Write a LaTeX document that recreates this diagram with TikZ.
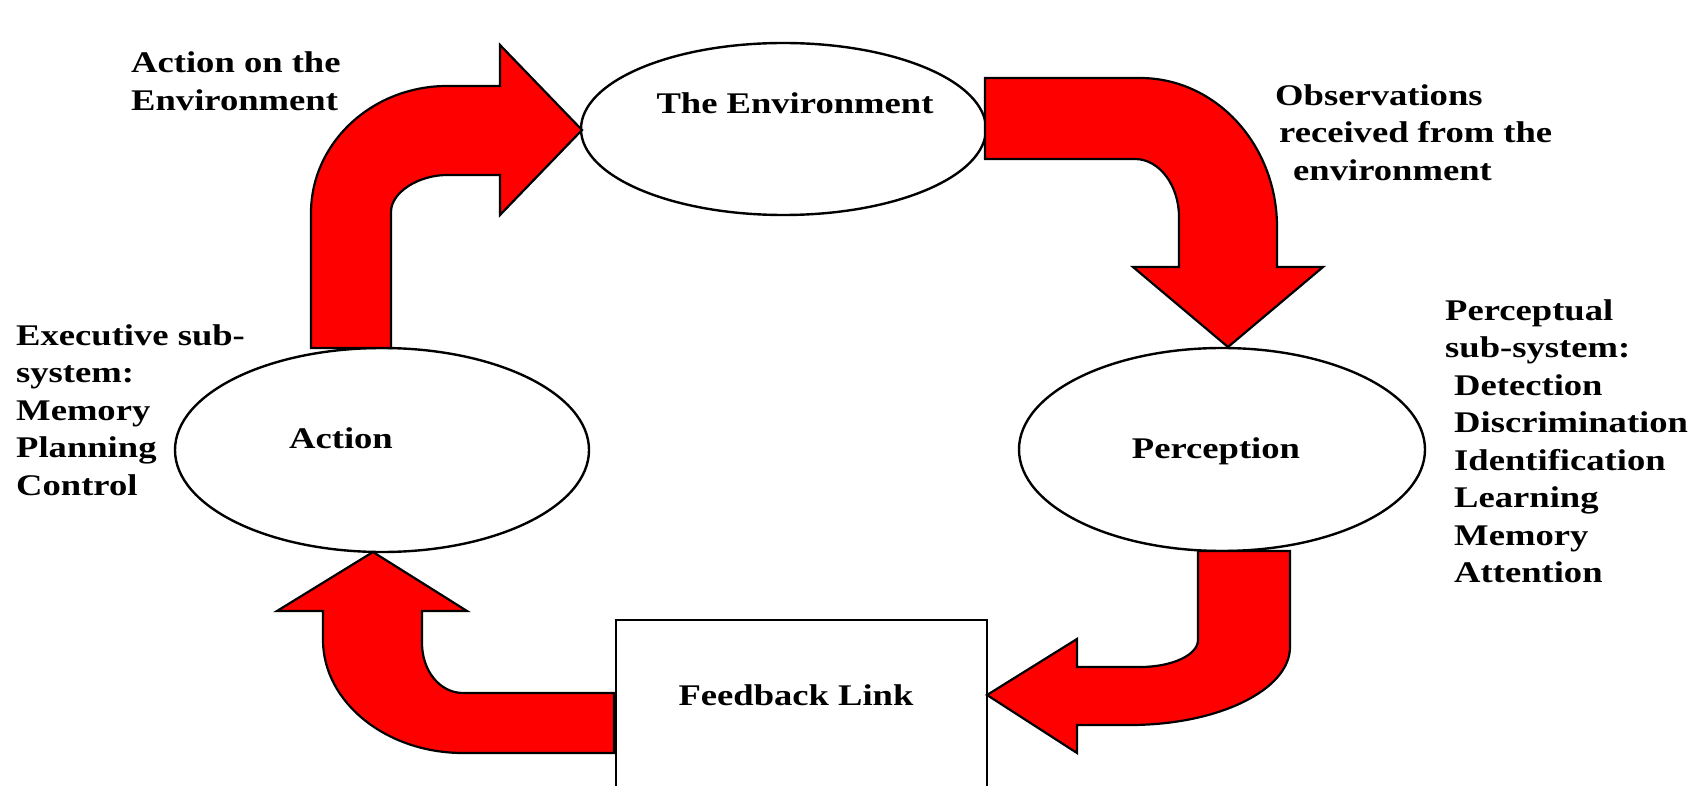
\documentclass[tikz,border=0pt]{standalone}
\usepackage{fontspec}
\setmainfont{Liberation Serif}[FakeStretch=1.22]
\usetikzlibrary{shapes.geometric}

\tikzset{every picture/.style={line width=1.2pt}}
\tikzset{blob/.style={ellipse, draw, fill=white, inner sep=0pt}}
\tikzset{mid text/.style={inner sep=0pt, font=\bfseries\fontsize{15}{18}\selectfont}}
\tikzset{side text/.style={align=left, inner sep=0pt, anchor=west, font=\bfseries\fontsize{15}{18.75}\selectfont}}
\tikzset{fat arrow/.style={fill=red, draw=black, line width=1.1pt, line join=miter}}

\begin{document}
\begin{tikzpicture}[x=0.5pt, y=-0.5pt]
        \useasboundingbox (0,0) rectangle (1703,786);
        \clip (0,0) rectangle (1703,786);
        \node[blob, minimum width=202.5pt, minimum height=86pt] (env) at (783.5,129) {};
        \node[blob, minimum width=207pt, minimum height=102pt] (act) at (382,450) {};
        \node[blob, minimum width=203pt, minimum height=101.5pt] (perc) at (1222,449.5) {};
        \node[draw, fill=white, anchor=north west, minimum width=185.5pt, minimum height=120pt] (feed) at (615,619) {};
        % the four bent arrows
        \draw[fat arrow] (311,348) -- (311,213) .. controls (311,143) and (372,86) .. (447,86) -- (500,86) -- (500,45)
            -- (582,130) -- (500,215) -- (500,175) -- (447,175) .. controls (419,175) and (391,192) .. (391,212) -- (391,348) -- cycle;
        \draw[fat arrow] (985,78) -- (1140,78) .. controls (1216,78) and (1277,145) .. (1277,227) -- (1277,267) -- (1323,267)
            -- (1228,347) -- (1133,267) -- (1179,267) -- (1179,217) .. controls (1179,185) and (1159,159) .. (1135,159) -- (985,159) -- cycle;
        \draw[fat arrow] (1198,551) -- (1290,551) -- (1290,647) .. controls (1290,690) and (1218,725) .. (1130,725) -- (1077,725) -- (1077,753)
            -- (987,695) -- (1077,639) -- (1077,667) -- (1140,667) .. controls (1172,667) and (1198,655) .. (1198,640) -- cycle;
        \draw[fat arrow] (614,693) -- (463,693) .. controls (440,693) and (422,671) .. (422,643) -- (422,611) -- (467,611)
            -- (373,552) -- (277,611) -- (323,611) -- (323,640) .. controls (323,702) and (386,753) .. (463,753) -- (614,753) -- cycle;
        \node[mid text] (envtxt) at (795,103) {The Environment};
        \node[mid text] (acttxt) at (341,438) {Action};
        \node[mid text] (perctxt) at (1216,451) {Perception};
        \node[mid text] (feedtxt) at (796,695) {Feedback Link};
        \node[side text] (ontxt) at (130,81) {Action on the\\Environment};
        \node[side text] (obstxt) at (1274,132.5) {Observations\\\hspace*{2pt}received from the\\\hspace*{9pt}environment};
        \node[side text] (subtxt) at (1444,441) {Perceptual\\sub-system:\\\hspace*{4.5pt}Detection\\\hspace*{4.5pt}Discrimination\\\hspace*{4.5pt}Identification\\\hspace*{4.5pt}Learning\\\hspace*{4.5pt}Memory\\\hspace*{4.5pt}Attention};
        \node[side text] (exectxt) at (15,410) {Executive sub-\\system:\\Memory\\Planning\\Control};
    \end{tikzpicture}
\end{document}
